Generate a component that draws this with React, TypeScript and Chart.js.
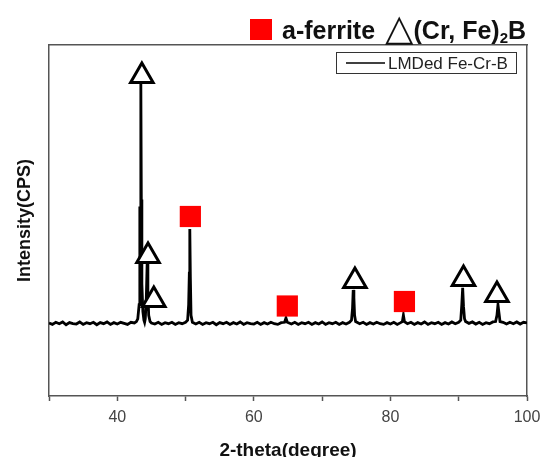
import React, { useEffect, useRef } from "react";
import { Chart, registerables } from "chart.js";

Chart.register(...registerables);

// 2-theta positions (degree) and measured intensity (CPS, arbitrary scale)
const twoTheta = [
  30, 30.5, 31, 31.5, 32, 32.5, 33, 33.5, 34, 34.5, 35, 35.5, 36, 36.5, 37, 37.5, 38, 38.5, 39, 39.5,
  40, 40.5, 41, 41.5, 42, 42.5, 42.8, 43.0, 43.2, 43.3, 43.38, 43.45, 43.52, 43.6, 43.75, 43.9, 44.0,
  44.1, 44.25, 44.38, 44.48, 44.6, 44.8, 45.0, 45.5, 46, 46.5, 47, 47.5, 48, 48.5, 49, 49.5, 50.0,
  50.3, 50.45, 50.55, 50.62, 50.7, 50.8, 51.0, 51.5, 52, 52.5, 53, 53.5, 54, 54.5, 55, 55.5, 56, 56.5,
  57, 57.5, 58, 58.5, 59, 59.5, 60, 60.5, 61, 61.5, 62, 62.5, 63, 63.5, 64, 64.5, 64.7, 64.9, 65.5,
  66, 66.5, 67, 67.5, 68, 68.5, 69, 69.5, 70, 70.5, 71, 71.5, 72, 72.5, 73, 73.5, 74, 74.3, 74.45,
  74.55, 74.65, 74.75, 74.9, 75.5, 76, 76.5, 77, 77.5, 78, 78.5, 79, 79.5, 80, 80.5, 81, 81.5, 81.75,
  81.9, 82.05, 82.5, 83, 83.5, 84, 84.5, 85, 85.5, 86, 86.5, 87, 87.5, 88, 88.5, 89, 89.5, 90, 90.3,
  90.45, 90.58, 90.7, 90.85, 91.0, 91.5, 92, 92.5, 93, 93.5, 94, 94.5, 95, 95.4, 95.6, 95.75, 95.9,
  96.05, 96.5, 97, 97.5, 98, 98.5, 99, 99.5, 100,
];
const intensity = [
  1040, 1020, 1050, 1030, 1055, 1015, 1045, 1030, 1025, 1055, 1020, 1045, 1030, 1050, 1015, 1045, 1030, 1055, 1020, 1045,
  1025, 1050, 1035, 1020, 1050, 1040, 1060, 1100, 1300, 2700, 2000, 4450, 2800, 1600, 1200, 1080, 1050,
  1100, 1400, 1910, 1500, 1150, 1060, 1040, 1025, 1050, 1020, 1045, 1030, 1050, 1020, 1045, 1030, 1050,
  1080, 1300, 1750, 2380, 1700, 1150, 1050, 1025, 1050, 1020, 1045, 1030, 1050, 1015, 1045, 1030, 1050, 1020,
  1045, 1025, 1055, 1020, 1045, 1030, 1025, 1050, 1020, 1045, 1025, 1050, 1030, 1020, 1045, 1050, 1110, 1050, 1025,
  1050, 1020, 1045, 1030, 1050, 1020, 1045, 1025, 1055, 1020, 1045, 1030, 1050, 1020, 1045, 1025, 1050, 1080, 1250,
  1510, 1400, 1150, 1060, 1030, 1050, 1020, 1045, 1025, 1050, 1030, 1020, 1045, 1025, 1050, 1020, 1045, 1060,
  1150, 1060, 1030, 1050, 1020, 1045, 1025, 1055, 1020, 1045, 1030, 1050, 1020, 1045, 1025, 1055, 1030, 1050, 1080,
  1300, 1540, 1280, 1100, 1060, 1035, 1055, 1025, 1050, 1020, 1045, 1030, 1055, 1060, 1150, 1300, 1180,
  1060, 1050, 1025, 1050, 1030, 1055, 1025, 1050, 1040,
];

// (Cr, Fe)2B peak markers
const boridePeakX = [43.6, 44.5, 45.35, 74.8, 90.7, 95.6];
const boridePeakY = [4558, 1994, 1368, 1638, 1667, 1439];
// alpha-ferrite peak markers
const ferritePeakX = [50.7, 64.9, 82.05];
const ferritePeakY = [2557, 1282, 1346];

const xMin = 30;
const xMax = 100;
const xTickStep = 10;
const yMin = 0;
const yMax = 5000;
const seriesLabel = "LMDed Fe-Cr-B";

const insideLegend = {
  id: "insideLegend",
  afterDraw(chart: any) {
    const { ctx, chartArea } = chart;
    const ds = chart.data.datasets.find((d: any) => d.label === seriesLabel);
    if (!ds) return;
    const boxRight = chartArea.right - 11;
    const boxLeft = boxRight - 180;
    const boxTop = chartArea.top + 7;
    const boxH = 21;
    ctx.save();
    ctx.strokeStyle = "#333";
    ctx.lineWidth = 1;
    ctx.strokeRect(boxLeft + 0.5, boxTop + 0.5, 180, boxH);
    const cy = boxTop + boxH / 2 + 0.5;
    ctx.beginPath();
    ctx.moveTo(boxLeft + 10, cy);
    ctx.lineTo(boxLeft + 49, cy);
    ctx.strokeStyle = "#000";
    ctx.lineWidth = 1.5;
    ctx.stroke();
    ctx.fillStyle = "#222";
    ctx.font = "17px 'Liberation Sans', Arial, sans-serif";
    ctx.textBaseline = "middle";
    ctx.textAlign = "left";
    ctx.fillText(ds.label, boxLeft + 52, cy + 1);
    ctx.restore();
  },
};

const noEdgePadding = (s: any) => {
  s.paddingLeft = 0;
  s.paddingRight = 0;
  s.paddingTop = 0;
  s.paddingBottom = 0;
};

export default function App() {
  const canvasRef = useRef<HTMLCanvasElement | null>(null);

  useEffect(() => {
    if (!canvasRef.current) return;
    const lineData = twoTheta.map((x, i) => ({ x, y: intensity[i] }));
    const boride = boridePeakX.map((x, i) => ({ x, y: boridePeakY[i] }));
    const ferrite = ferritePeakX.map((x, i) => ({ x, y: ferritePeakY[i] }));
    const chart = new Chart(canvasRef.current, {
      type: "scatter",
      data: {
        datasets: [
          {
            label: "(Cr, Fe)2B",
            data: boride,
            showLine: false,
            pointStyle: "triangle",
            pointRadius: 13,
            pointBackgroundColor: "#ffffff",
            pointBorderColor: "#000000",
            pointBorderWidth: 3,
          },
          {
            label: "a-ferrite",
            data: ferrite,
            showLine: false,
            pointStyle: "rect",
            pointRadius: 15,
            pointBackgroundColor: "#ff0000",
            pointBorderColor: "#ff0000",
            pointBorderWidth: 0,
          },
          {
            label: seriesLabel,
            data: lineData,
            showLine: true,
            borderColor: "#000000",
            borderWidth: 2.8,
            pointRadius: 0,
            tension: 0,
          },
        ],
      },
      options: {
        animation: false,
        responsive: false,
        layout: { padding: { top: 45, right: 11, left: 0, bottom: 0 } },
        plugins: {
          legend: { display: false },
          tooltip: { enabled: false },
        },
        scales: {
          x: {
            type: "linear",
            position: "bottom",
            min: xMin,
            max: xMax,
            afterFit: (s: any) => {
              s.height = 61;
              noEdgePadding(s);
            },
            ticks: {
              stepSize: xTickStep,
              autoSkip: false,
              maxRotation: 0,
              padding: 7,
              color: "#444",
              font: { family: "'Liberation Sans', Arial, sans-serif", size: 16 },
              callback: (v: any) => (Number(v) % 20 === 0 ? String(v) : ""),
            },
            grid: {
              display: true,
              drawOnChartArea: false,
              drawTicks: true,
              tickLength: 5,
              tickColor: "#555",
              tickWidth: 1.5,
            },
            border: { display: true, color: "#555", width: 1.5 },
            title: {
              display: true,
              text: "2-theta(degree)",
              color: "#111",
              font: { family: "'Liberation Sans', Arial, sans-serif", size: 19, weight: "bold", lineHeight: 1 },
              padding: { top: 0, bottom: -3 },
            },
          },
          x2: {
            type: "linear",
            position: "top",
            min: xMin,
            max: xMax,
            afterFit: (s: any) => {
              s.height = 0;
              noEdgePadding(s);
            },
            ticks: { display: false },
            grid: { display: false },
            border: { display: true, color: "#555", width: 1.5 },
          },
          y: {
            type: "linear",
            position: "left",
            min: yMin,
            max: yMax,
            afterFit: (s: any) => {
              s.width = 49;
              noEdgePadding(s);
            },
            ticks: { display: false },
            grid: { display: false },
            border: { display: true, color: "#555", width: 1.5 },
            title: {
              display: true,
              text: "Intensity(CPS)",
              color: "#111",
              font: { family: "'Liberation Sans', Arial, sans-serif", size: 18, weight: "bold", lineHeight: 1 },
              padding: { top: 16, bottom: 0 },
            },
          },
          y2: {
            type: "linear",
            position: "right",
            min: yMin,
            max: yMax,
            afterFit: (s: any) => {
              s.width = 0;
              noEdgePadding(s);
            },
            ticks: { display: false },
            grid: { display: false },
            border: { display: true, color: "#555", width: 1.5 },
          },
        },
      },
      plugins: [insideLegend],
    });
    return () => chart.destroy();
  }, []);

  return (
    <div style={{ position: "fixed", left: 0, top: 0, width: 540, height: 457, background: "#fff", overflow: "hidden" }}>
      <canvas ref={canvasRef} width={543} height={457} style={{ position: "absolute", left: 0, top: 0 }} />
      <div
        style={{
          position: "absolute",
          left: 250,
          top: 15,
          whiteSpace: "nowrap",
          fontFamily: "'Liberation Sans', Arial, sans-serif",
          fontWeight: "bold",
          fontSize: 25,
          lineHeight: "26px",
          color: "#111",
        }}
      >
        <span style={{ display: "inline-block", width: 22, height: 21, background: "#ff0000", marginRight: 10, verticalAlign: "-1px" }} />
        <span>a-ferrite </span>
        <span style={{ fontFamily: "'DejaVu Sans', sans-serif", fontSize: 37, lineHeight: "26px", display: "inline-block", verticalAlign: "-1px", marginLeft: 3 }}>△</span>
        <span>(Cr, Fe)</span>
        <sub style={{ fontSize: 15, lineHeight: "15px", verticalAlign: "-4px" }}>2</sub>
        <span>B</span>
      </div>
    </div>
  );
}
